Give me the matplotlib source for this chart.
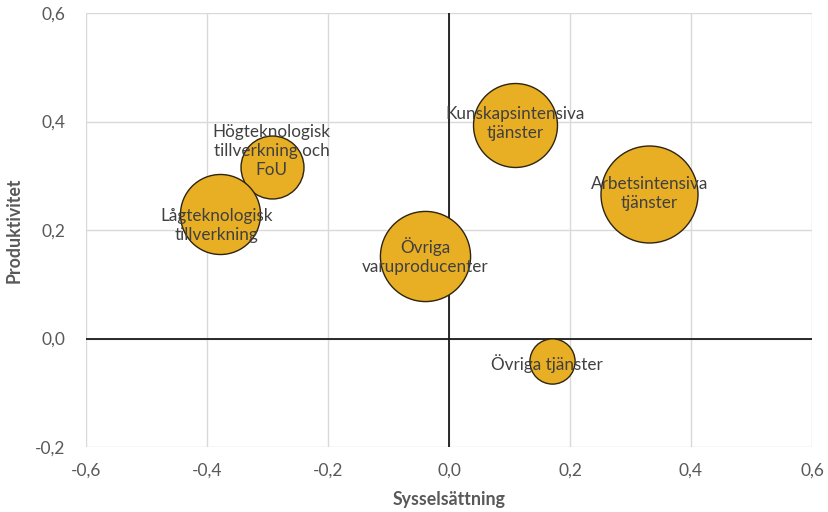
import matplotlib
matplotlib.use("Agg")
import matplotlib.pyplot as plt
import numpy as np

plt.rcParams['font.family'] = ['Lato', 'DejaVu Sans']

labels = ["Högteknologisk\ntillverkning och\nFoU",
          "Lågteknologisk\ntillverkning",
          "Övriga\nvaruproducenter",
          "Kunskapsintensiva\ntjänster",
          "Arbetsintensiva\ntjänster",
          "Övriga tjänster"]
syssels = [-0.293, -0.379, -0.039, 0.109, 0.331, 0.171]
produkt = [0.317, 0.229, 0.152, 0.394, 0.267, -0.041]
storlek = [9.9, 16.0, 20.3, 17.6, 23.5, 5.1]
# label offsets in points (dx, dy)
label_offsets = [(0, 11), (-2, -8), (0, 0), (0, 1), (0, 0), (-4, -2)]

xticks = [-0.6, -0.4, -0.2, 0.0, 0.2, 0.4, 0.6]
yticks = [-0.2, 0.0, 0.2, 0.4, 0.6]

W, H, DPI = 829, 512, 100
fig = plt.figure(figsize=(W / DPI, H / DPI), dpi=DPI)
ax = fig.add_axes([86 / W, 1 - 447 / H, (812 - 86) / W, (447 - 13) / H])
ax.set_xlim(-0.6, 0.6)
ax.set_ylim(-0.2, 0.6)

max_r_px = 48.5
for i, (x, y, s) in enumerate(zip(syssels, produkt, storlek)):
    r_px = max_r_px * np.sqrt(s / max(storlek))
    size = (2 * r_px * 72 / DPI) ** 2
    ax.scatter([x], [y], s=size, color="#E8AF24", edgecolor="#2E2410",
               linewidth=1.0, zorder=3 + i * 0.01)

for lab, x, y, (dx, dy) in zip(labels, syssels, produkt, label_offsets):
    ax.annotate(lab, (x, y), xytext=(dx, dy), textcoords="offset points",
                ha="center", va="center", fontsize=12.3, color="#404040",
                linespacing=1.22, zorder=10)

ax.set_xticks(xticks)
ax.set_yticks(yticks)
fmt = lambda v: f"{v:.1f}".replace(".", ",")
ax.set_xticklabels([fmt(v) for v in xticks])
ax.set_yticklabels([fmt(v) for v in yticks])
ax.tick_params(axis="both", length=0, labelsize=12.5, labelcolor="#595959")
ax.tick_params(axis="x", pad=11)
ax.tick_params(axis="y", pad=15)

ax.grid(True, color="#D9D9D9", linewidth=1.0, zorder=0)
ax.set_axisbelow(True)
for sp in ax.spines.values():
    sp.set_visible(False)
ax.axhline(0, color="#1a1a1a", linewidth=1.3, zorder=2)
ax.axvline(0, color="#1a1a1a", linewidth=1.3, zorder=2)

ax.set_xlabel("Sysselsättning", fontsize=12.8, fontweight="bold", color="#595959", labelpad=9)
ax.set_ylabel("Produktivitet", fontsize=12.8, fontweight="bold", color="#595959", labelpad=9)

fig.savefig("out.png", dpi=DPI)
